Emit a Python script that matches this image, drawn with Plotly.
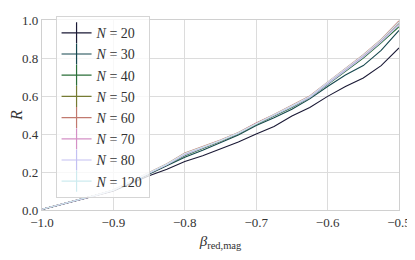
import numpy as np
import plotly.graph_objects as go

beta = [-1.0, -0.975, -0.95, -0.925, -0.9, -0.875, -0.85, -0.825, -0.8, -0.775, -0.75,
        -0.725, -0.7, -0.675, -0.65, -0.625, -0.6, -0.575, -0.55, -0.525, -0.5]

labels = ["N = 20", "N = 30", "N = 40", "N = 50", "N = 60", "N = 70", "N = 80", "N = 120"]

R_N20 = [0.003, 0.026, 0.05, 0.075, 0.10, 0.14, 0.18, 0.215, 0.255, 0.285, 0.32, 0.358, 0.40, 0.44, 0.495, 0.54, 0.598, 0.65, 0.695, 0.76, 0.853]
R_N30 = [0.003, 0.027, 0.051, 0.076, 0.103, 0.145, 0.19, 0.232, 0.278, 0.315, 0.355, 0.395, 0.445, 0.485, 0.53, 0.585, 0.65, 0.71, 0.76, 0.84, 0.945]
R_N40 = [0.004, 0.027, 0.052, 0.077, 0.104, 0.148, 0.193, 0.237, 0.285, 0.322, 0.36, 0.40, 0.45, 0.495, 0.54, 0.59, 0.66, 0.73, 0.80, 0.88, 0.965]
R_N50 = [0.004, 0.028, 0.052, 0.078, 0.105, 0.15, 0.195, 0.24, 0.292, 0.328, 0.365, 0.405, 0.455, 0.50, 0.547, 0.595, 0.668, 0.74, 0.81, 0.89, 0.982]
R_N60 = [0.004, 0.028, 0.053, 0.078, 0.105, 0.151, 0.197, 0.243, 0.30, 0.333, 0.368, 0.408, 0.458, 0.503, 0.55, 0.60, 0.673, 0.747, 0.817, 0.898, 0.995]
R_N70 = [0.004, 0.027, 0.052, 0.077, 0.104, 0.149, 0.195, 0.24, 0.295, 0.33, 0.365, 0.405, 0.455, 0.50, 0.546, 0.596, 0.67, 0.743, 0.812, 0.893, 0.988]
R_N80 = [0.004, 0.027, 0.052, 0.077, 0.104, 0.148, 0.194, 0.238, 0.29, 0.326, 0.362, 0.402, 0.452, 0.497, 0.543, 0.592, 0.664, 0.735, 0.805, 0.885, 0.975]
R_N120 = [0.004, 0.028, 0.053, 0.078, 0.105, 0.15, 0.196, 0.242, 0.297, 0.331, 0.366, 0.406, 0.456, 0.502, 0.549, 0.598, 0.672, 0.745, 0.815, 0.895, 0.99]

series = [R_N20, R_N30, R_N40, R_N50, R_N60, R_N70, R_N80, R_N120]

x_ticks = [-1.0, -0.9, -0.8, -0.7, -0.6, -0.5]
x_ticktext = ["\u22121.0", "\u22120.9", "\u22120.8", "\u22120.7", "\u22120.6", "\u22120.5"]
y_ticks = [0.0, 0.2, 0.4, 0.6, 0.8, 1.0]
y_ticktext = ["0.0", "0.2", "0.4", "0.6", "0.8", "1.0"]


def cubehelix(x, gamma=1.0, s=0.5, r=-1.5, h=1.0):
    xg = x ** gamma
    a = h * xg * (1 - xg) / 2
    phi = 2 * np.pi * (s / 3 + r * x)
    rr = xg + a * (-0.14861 * np.cos(phi) + 1.78277 * np.sin(phi))
    gg = xg + a * (-0.29227 * np.cos(phi) - 0.90649 * np.sin(phi))
    bb = xg + a * (1.97294 * np.cos(phi))
    c = [int(round(255 * min(max(v, 0), 1))) for v in (rr, gg, bb)]
    return "rgb(%d,%d,%d)" % tuple(c)


colors = [cubehelix(v) for v in np.linspace(0, 1, len(series) + 2)[1:-1]]

serif = "Liberation Serif, DejaVu Serif, serif"

fig = go.Figure()
for lab, ys, col in zip(labels, series, colors):
    fig.add_trace(go.Scatter(x=beta, y=ys, mode="lines", line=dict(color=col, width=1.1),
                             showlegend=False))
for lab, col in zip(labels, colors):
    n, val = lab.split(" = ")
    fig.add_trace(go.Scatter(x=[None], y=[None], mode="lines+markers",
                             line=dict(color=col, width=1.2),
                             marker=dict(symbol="line-ns-open", size=15,
                                         line=dict(color=col, width=1.2)),
                             name="<i>%s</i> = %s" % (n, val)))

# page body has an 8px default margin, so the figure is sized to fit the 415x260 window
fig.update_layout(
    width=407, height=252,
    margin=dict(l=34, r=16, t=8, b=50),
    plot_bgcolor="white", paper_bgcolor="white",
    font=dict(family=serif, size=13, color="#333333"),
    legend=dict(x=0.038, y=1.02, xanchor="left", yanchor="top",
                bgcolor="rgba(255,255,255,0.8)", bordercolor="#d5d5d5", borderwidth=1,
                font=dict(family=serif, size=14, color="#333333"),
                tracegroupgap=0, itemwidth=30, maxheight=250),
    xaxis=dict(range=[-1.0, -0.5], tickvals=x_ticks, ticktext=x_ticktext,
               automargin=False,
               showgrid=True, gridcolor="#dcdcdc", gridwidth=1,
               showline=True, linecolor="#d0d0d0", linewidth=1.2, mirror=True,
               zeroline=False, ticks="", ticklen=0,
               title=dict(text="<i>β</i><sub>red,mag</sub>", standoff=6,
                          font=dict(family=serif, size=15, color="#333333"))),
    yaxis=dict(range=[0.0, 1.0], tickvals=y_ticks, ticktext=y_ticktext,
               automargin=False,
               showgrid=True, gridcolor="#dcdcdc", gridwidth=1,
               showline=True, linecolor="#d0d0d0", linewidth=1.2, mirror=True,
               zeroline=False, ticks="", ticklen=0,
               title=dict(text="<i>R</i>", standoff=6,
                          font=dict(family=serif, size=16, color="#333333"))),
)

fig.write_html("out.html")
